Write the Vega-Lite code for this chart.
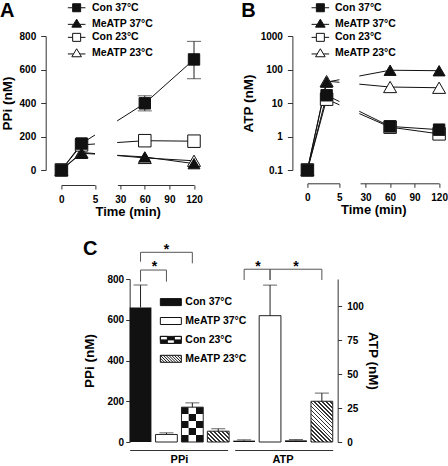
{
  "$schema": "https://vega.github.io/schema/vega-lite/v6.json",
  "padding": 0,
  "background": "white",
  "config": {
    "font": "Liberation Sans",
    "view": {"stroke": null},
    "axis": {"labelFont": "Liberation Sans", "titleFont": "Liberation Sans", "labelFontWeight": "bold", "titleFontWeight": "bold", "labelColor": "black", "titleColor": "black", "labelFontSize": 10.5, "titleFontSize": 13.5, "domainColor": "#333", "tickColor": "#333", "grid": false, "labelOverlap": false, "labelFlush": false},
    "legend": {"labelFont": "Liberation Sans", "labelFontWeight": "bold", "labelFontSize": 10.5, "labelColor": "black"},
    "title": {"font": "Liberation Sans", "fontSize": 20, "fontWeight": "bold", "anchor": "start", "color": "black"},
    "text": {"font": "Liberation Sans"}
  },
  "datasets": {
    "timePPi": [
      {"series": "MeATP 23°C", "time": 0, "value": 0},
      {"series": "MeATP 23°C", "time": 3, "value": 105},
      {"series": "MeATP 23°C", "time": 60, "value": 72},
      {"series": "MeATP 23°C", "time": 120, "value": 55},
      {"series": "Con 23°C", "time": 0, "value": 0},
      {"series": "Con 23°C", "time": 3, "value": 150},
      {"series": "Con 23°C", "time": 60, "value": 175},
      {"series": "Con 23°C", "time": 120, "value": 172},
      {"series": "MeATP 37°C", "time": 0, "value": 0},
      {"series": "MeATP 37°C", "time": 3, "value": 100},
      {"series": "MeATP 37°C", "time": 60, "value": 78},
      {"series": "MeATP 37°C", "time": 120, "value": 38},
      {"series": "Con 37°C", "time": 0, "value": 0},
      {"series": "Con 37°C", "time": 3, "value": 158},
      {"series": "Con 37°C", "time": 60, "value": 398, "lo": 353, "hi": 443},
      {"series": "Con 37°C", "time": 120, "value": 660, "lo": 545, "hi": 768}
    ],
    "timeATP": [
      {"series": "MeATP 23°C", "time": 0, "value": 0.1},
      {"series": "MeATP 23°C", "time": 3, "value": 45},
      {"series": "MeATP 23°C", "time": 60, "value": 30},
      {"series": "MeATP 23°C", "time": 120, "value": 28.5},
      {"series": "Con 23°C", "time": 0, "value": 0.1},
      {"series": "Con 23°C", "time": 3, "value": 13},
      {"series": "Con 23°C", "time": 60, "value": 1.9},
      {"series": "Con 23°C", "time": 120, "value": 1.2},
      {"series": "MeATP 37°C", "time": 0, "value": 0.1},
      {"series": "MeATP 37°C", "time": 3, "value": 42},
      {"series": "MeATP 37°C", "time": 60, "value": 95},
      {"series": "MeATP 37°C", "time": 120, "value": 92},
      {"series": "Con 37°C", "time": 0, "value": 0.1},
      {"series": "Con 37°C", "time": 3, "value": 17},
      {"series": "Con 37°C", "time": 60, "value": 2.0},
      {"series": "Con 37°C", "time": 120, "value": 1.6}
    ],
    "bars": [
      {"measure": "PPi", "cond": "Con 37°C", "bar": "PPi Con 37°C", "value": 660, "hi": 770},
      {"measure": "PPi", "cond": "MeATP 37°C", "bar": "PPi MeATP 37°C", "value": 37, "hi": 45},
      {"measure": "PPi", "cond": "Con 23°C", "bar": "PPi Con 23°C", "value": 171, "hi": 192},
      {"measure": "PPi", "cond": "MeATP 23°C", "bar": "PPi MeATP 23°C", "value": 53, "hi": 65},
      {"measure": "ATP", "cond": "Con 37°C", "bar": "ATP Con 37°C", "value": 1.0, "hi": 1.6},
      {"measure": "ATP", "cond": "MeATP 37°C", "bar": "ATP MeATP 37°C", "value": 93, "hi": 115.5},
      {"measure": "ATP", "cond": "Con 23°C", "bar": "ATP Con 23°C", "value": 1.2, "hi": 1.8},
      {"measure": "ATP", "cond": "MeATP 23°C", "bar": "ATP MeATP 23°C", "value": 30, "hi": 36}
    ],
    "brackets": [
      {"from": "PPi Con 37°C", "to": "PPi Con 23°C", "y": 931, "legL": 885, "legR": 877},
      {"from": "PPi Con 37°C", "to": "PPi MeATP 37°C", "y": 844, "legL": 787, "legR": 787},
      {"from": "ATP Con 37°C", "to": "ATP MeATP 37°C", "y": 848, "legL": 795, "legR": 795},
      {"from": "ATP MeATP 37°C", "to": "ATP MeATP 23°C", "y": 848, "legL": 795, "legR": 795}
    ],
    "stars": [
      {"at": "PPi MeATP 37°C", "y": 925, "pos": "center"},
      {"at": "PPi Con 37°C", "y": 838, "pos": "edge"},
      {"at": "ATP Con 37°C", "y": 838, "pos": "edge"},
      {"at": "ATP Con 23°C", "y": 838, "pos": "center"}
    ]
  },
  "spacing": 21,
  "center": true,
  "resolve": {"scale": {"shape": "independent", "fill": "independent", "size": "independent"}, "legend": {"shape": "independent", "fill": "independent"}},
  "vconcat": [
    {
      "spacing": 37,
      "resolve": {"scale": {"shape": "independent", "fill": "independent", "size": "independent"}, "legend": {"shape": "independent", "fill": "independent"}},
      "hconcat": [
        {
          "title": {"text": "A", "offset": -18},
          "width": 133,
          "height": 134,
          "data": {"name": "timePPi"},
          "resolve": {"scale": {"shape": "independent", "fill": "independent"}},
          "layer": [
            {
              "mark": {"type": "line", "color": "#111", "strokeWidth": 1},
              "encoding": {
                "x": {"field": "time", "type": "quantitative", "scale": {"domain": [0, 5, 30, 120], "range": [0, 33.6, 58.8, 132.6], "nice": false, "zero": false},
                  "axis": {"title": "Time (min)", "values": [0, 5, 30, 60, 90, 120], "tickCount": 12, "format": "d", "offset": 15, "tickSize": 4, "labelPadding": 5, "labelFontSize": 10, "titlePadding": 1, "titleFontSize": 13, "domainDash": [33.6, 22.4, 80], "labelOverlap": false, "labelFlush": false}},
                "y": {"field": "value", "type": "quantitative", "scale": {"domain": [0, 800], "nice": false},
                  "axis": {"title": "PPi (nM)", "values": [0, 200, 400, 600, 800], "tickCount": 10, "offset": 15.7, "tickSize": 5, "labelPadding": 5, "titlePadding": 5, "labelFontSize": 10, "labelOverlap": false}},
                "detail": {"field": "series"}
              }
            },
            {
              "data": {"values": [{"t0": 5, "t1": 27}]},
              "mark": {"type": "rect", "fill": "white"},
              "encoding": {
                "x": {"field": "t0", "type": "quantitative"},
                "x2": {"field": "t1"},
                "y": {"datum": 0},
                "y2": {"datum": 800}
              }
            },
            {
              "transform": [{"filter": "datum.hi != null"}],
              "mark": {"type": "rule", "color": "#222", "strokeWidth": 1},
              "encoding": {
                "x": {"field": "time", "type": "quantitative"},
                "y": {"field": "lo", "type": "quantitative"},
                "y2": {"field": "hi"}
              }
            },
            {
              "transform": [{"filter": "datum.hi != null"}],
              "mark": {"type": "tick", "orient": "horizontal", "size": 14, "thickness": 1, "color": "#222"},
              "encoding": {
                "x": {"field": "time", "type": "quantitative"},
                "y": {"field": "hi", "type": "quantitative"}
              }
            },
            {
              "transform": [{"filter": "datum.hi != null"}],
              "mark": {"type": "tick", "orient": "horizontal", "size": 14, "thickness": 1, "color": "#222"},
              "encoding": {
                "x": {"field": "time", "type": "quantitative"},
                "y": {"field": "lo", "type": "quantitative"}
              }
            },
            {
              "mark": {"type": "point", "filled": true, "stroke": "#111", "strokeWidth": 1, "opacity": 1},
              "encoding": {
                "x": {"field": "time", "type": "quantitative"},
                "y": {"field": "value", "type": "quantitative"},
                "shape": {"field": "series", "type": "nominal", "scale": {"domain": ["Con 37°C", "MeATP 37°C", "Con 23°C", "MeATP 23°C"], "range": ["square", "triangle-up", "square", "triangle-up"]}, "legend": null},
                "fill": {"field": "series", "type": "nominal", "scale": {"domain": ["Con 37°C", "MeATP 37°C", "Con 23°C", "MeATP 23°C"], "range": ["#111", "#111", "white", "white"]}, "legend": null},
                "size": {"field": "series", "type": "ordinal", "scale": {"domain": ["Con 37°C", "MeATP 37°C", "Con 23°C", "MeATP 23°C"], "range": [130, 169, 130, 169]}, "legend": null}
              }
            },
            {
              "mark": {"type": "point", "filled": true, "opacity": 0},
              "encoding": {
                "x": {"field": "time", "type": "quantitative"},
                "y": {"field": "value", "type": "quantitative"},
                "shape": {"field": "series", "type": "nominal", "scale": {"domain": ["Con 37°C", "MeATP 37°C", "Con 23°C", "MeATP 23°C"], "range": ["M-2.2,0H-1M1,0H2.2M-1,-1H1V1H-1Z", "M-2.2,0.2H-0.78M0.78,0.2H2.2M0,-1.1L1.2,0.9H-1.2Z", "M-2.2,0H-1M1,0H2.2M-1,-1H1V1H-1Z", "M-2.2,0.2H-0.78M0.78,0.2H2.2M0,-1.1L1.2,0.9H-1.2Z"]},
                  "legend": {"title": null, "orient": "none", "legendX": 10, "legendY": -33.5, "symbolSize": 64, "symbolStrokeWidth": 1, "symbolStrokeColor": "#111", "labelOffset": 10, "rowPadding": 1.8, "padding": 0, "encode": {"symbols": {"update": {"opacity": {"value": 1}, "stroke": {"value": "#111"}, "strokeWidth": {"value": 1}}}}}},
                "fill": {"field": "series", "type": "nominal", "scale": {"domain": ["Con 37°C", "MeATP 37°C", "Con 23°C", "MeATP 23°C"], "range": ["#111", "#111", "white", "white"]},
                  "legend": {"title": null, "orient": "none", "legendX": 10, "legendY": -33.5, "symbolSize": 64, "symbolStrokeWidth": 1, "symbolStrokeColor": "#111", "labelOffset": 10, "rowPadding": 1.8, "padding": 0, "encode": {"symbols": {"update": {"opacity": {"value": 1}, "stroke": {"value": "#111"}, "strokeWidth": {"value": 1}}}}}}
              }
            }
          ]
        },
        {
          "title": {"text": "B", "offset": -18},
          "width": 132,
          "height": 134,
          "data": {"name": "timeATP"},
          "resolve": {"scale": {"shape": "independent", "fill": "independent"}},
          "layer": [
            {
              "mark": {"type": "line", "color": "#111", "strokeWidth": 1},
              "encoding": {
                "x": {"field": "time", "type": "quantitative", "scale": {"domain": [0, 5, 30, 120], "range": [0, 32, 58.2, 131.7], "nice": false, "zero": false},
                  "axis": {"title": "Time (min)", "values": [0, 5, 30, 60, 90, 120], "tickCount": 12, "format": "d", "offset": 13.3, "tickSize": 4, "labelPadding": 5, "labelFontSize": 10, "titlePadding": 1, "titleFontSize": 13, "domainDash": [32, 20.7, 80], "labelOverlap": false, "labelFlush": false}},
                "y": {"field": "value", "type": "quantitative", "scale": {"type": "log", "domain": [0.1, 1000], "nice": false},
                  "axis": {"title": "ATP (nM)", "values": [0.1, 1, 10, 100, 1000], "tickCount": 10, "format": "~g", "offset": 15, "tickSize": 5, "labelPadding": 5, "titlePadding": 5, "labelFontSize": 10, "labelOverlap": false}},
                "detail": {"field": "series"}
              }
            },
            {
              "data": {"values": [{"t0": 5, "t1": 24}]},
              "mark": {"type": "rect", "fill": "white"},
              "encoding": {
                "x": {"field": "t0", "type": "quantitative"},
                "x2": {"field": "t1"},
                "y": {"datum": 0.1},
                "y2": {"datum": 1000}
              }
            },
            {
              "mark": {"type": "point", "filled": true, "stroke": "#111", "strokeWidth": 1, "opacity": 1},
              "encoding": {
                "x": {"field": "time", "type": "quantitative"},
                "y": {"field": "value", "type": "quantitative"},
                "shape": {"field": "series", "type": "nominal", "scale": {"domain": ["Con 37°C", "MeATP 37°C", "Con 23°C", "MeATP 23°C"], "range": ["square", "triangle-up", "square", "triangle-up"]}, "legend": null},
                "fill": {"field": "series", "type": "nominal", "scale": {"domain": ["Con 37°C", "MeATP 37°C", "Con 23°C", "MeATP 23°C"], "range": ["#111", "#111", "white", "white"]}, "legend": null},
                "size": {"field": "series", "type": "ordinal", "scale": {"domain": ["Con 37°C", "MeATP 37°C", "Con 23°C", "MeATP 23°C"], "range": [130, 169, 130, 169]}, "legend": null}
              }
            },
            {
              "mark": {"type": "point", "filled": true, "opacity": 0},
              "encoding": {
                "x": {"field": "time", "type": "quantitative"},
                "y": {"field": "value", "type": "quantitative"},
                "shape": {"field": "series", "type": "nominal", "scale": {"domain": ["Con 37°C", "MeATP 37°C", "Con 23°C", "MeATP 23°C"], "range": ["M-2.2,0H-1M1,0H2.2M-1,-1H1V1H-1Z", "M-2.2,0.2H-0.78M0.78,0.2H2.2M0,-1.1L1.2,0.9H-1.2Z", "M-2.2,0H-1M1,0H2.2M-1,-1H1V1H-1Z", "M-2.2,0.2H-0.78M0.78,0.2H2.2M0,-1.1L1.2,0.9H-1.2Z"]},
                  "legend": {"title": null, "orient": "none", "legendX": 7.7, "legendY": -33.5, "symbolSize": 64, "symbolStrokeWidth": 1, "symbolStrokeColor": "#111", "labelOffset": 9.3, "rowPadding": 1.8, "padding": 0, "encode": {"symbols": {"update": {"opacity": {"value": 1}, "stroke": {"value": "#111"}, "strokeWidth": {"value": 1}}}}}},
                "fill": {"field": "series", "type": "nominal", "scale": {"domain": ["Con 37°C", "MeATP 37°C", "Con 23°C", "MeATP 23°C"], "range": ["#111", "#111", "white", "white"]},
                  "legend": {"title": null, "orient": "none", "legendX": 7.7, "legendY": -33.5, "symbolSize": 64, "symbolStrokeWidth": 1, "symbolStrokeColor": "#111", "labelOffset": 9.3, "rowPadding": 1.8, "padding": 0, "encode": {"symbols": {"update": {"opacity": {"value": 1}, "stroke": {"value": "#111"}, "strokeWidth": {"value": 1}}}}}}
              }
            }
          ]
        }
      ]
    },
    {
      "title": {"text": "C", "offset": -16.6},
      "width": 208,
      "height": 163,
      "data": {"name": "bars"},
      "resolve": {"scale": {"y": "independent"}},
      "layer": [
        {
          "transform": [{"filter": "datum.measure == 'PPi'"}],
          "layer": [
            {
              "transform": [{"filter": "datum.cond == 'Con 37°C'"}],
              "mark": {"type": "bar", "fill": "#111"},
              "encoding": {
                "x": {"field": "bar", "type": "nominal", "scale": {"type": "band", "domain": ["PPi Con 37°C", "PPi MeATP 37°C", "PPi Con 23°C", "PPi MeATP 23°C", "ATP Con 37°C", "ATP MeATP 37°C", "ATP Con 23°C", "ATP MeATP 23°C"], "paddingInner": 0.16, "paddingOuter": 0.095, "align": 0},
                  "axis": {"title": null, "orient": "bottom", "offset": 8, "ticks": false, "labelAngle": 0, "labelPadding": 3, "labelFontSize": 11, "labelOffset": 13, "labelOverlap": false, "labelExpr": "datum.value == 'PPi MeATP 37°C' ? 'PPi' : (datum.value == 'ATP MeATP 37°C' ? 'ATP' : '')", "domainDash": [98, 7, 98, 100], "domainColor": "#333"}},
                "y": {"field": "value", "type": "quantitative", "scale": {"domain": [0, 800], "nice": false},
                  "axis": {"title": "PPi (nM)", "orient": "left", "values": [0, 200, 400, 600, 800], "tickCount": 10, "tickSize": 4, "labelPadding": 2, "labelFontSize": 10, "titlePadding": 10, "labelOverlap": false}}
              }
            },
            {
              "transform": [{"filter": "datum.cond != 'Con 37°C'"}],
              "mark": {"type": "bar", "fill": "white"},
              "encoding": {
                "x": {"field": "bar", "type": "nominal"},
                "y": {"field": "value", "type": "quantitative"}
              }
            },
            {
              "transform": [{"filter": "datum.cond == 'Con 23°C'"}],
              "mark": {"type": "bar", "width": 7.26, "xOffset": -7.26, "fill": {"gradient": "linear", "x1": 0, "y1": 0, "x2": 0, "y2": 1, "stops": [{"offset": 0, "color": "#111"}, {"offset": 0.2, "color": "#111"}, {"offset": 0.2, "color": "white"}, {"offset": 0.4, "color": "white"}, {"offset": 0.4, "color": "#111"}, {"offset": 0.6, "color": "#111"}, {"offset": 0.6, "color": "white"}, {"offset": 0.8, "color": "white"}, {"offset": 0.8, "color": "#111"}, {"offset": 1, "color": "#111"}]}},
              "encoding": {
                "x": {"field": "bar", "type": "nominal"},
                "y": {"field": "value", "type": "quantitative"}
              }
            },
            {
              "transform": [{"filter": "datum.cond == 'Con 23°C'"}],
              "mark": {"type": "bar", "width": 7.26, "xOffset": 0, "fill": {"gradient": "linear", "x1": 0, "y1": 0, "x2": 0, "y2": 1, "stops": [{"offset": 0, "color": "white"}, {"offset": 0.2, "color": "white"}, {"offset": 0.2, "color": "#111"}, {"offset": 0.4, "color": "#111"}, {"offset": 0.4, "color": "white"}, {"offset": 0.6, "color": "white"}, {"offset": 0.6, "color": "#111"}, {"offset": 0.8, "color": "#111"}, {"offset": 0.8, "color": "white"}, {"offset": 1, "color": "white"}]}},
              "encoding": {
                "x": {"field": "bar", "type": "nominal"},
                "y": {"field": "value", "type": "quantitative"}
              }
            },
            {
              "transform": [{"filter": "datum.cond == 'Con 23°C'"}],
              "mark": {"type": "bar", "width": 7.26, "xOffset": 7.26, "fill": {"gradient": "linear", "x1": 0, "y1": 0, "x2": 0, "y2": 1, "stops": [{"offset": 0, "color": "#111"}, {"offset": 0.2, "color": "#111"}, {"offset": 0.2, "color": "white"}, {"offset": 0.4, "color": "white"}, {"offset": 0.4, "color": "#111"}, {"offset": 0.6, "color": "#111"}, {"offset": 0.6, "color": "white"}, {"offset": 0.8, "color": "white"}, {"offset": 0.8, "color": "#111"}, {"offset": 1, "color": "#111"}]}},
              "encoding": {
                "x": {"field": "bar", "type": "nominal"},
                "y": {"field": "value", "type": "quantitative"}
              }
            },
            {
              "transform": [{"filter": "datum.cond == 'MeATP 23°C'"}],
              "mark": {"type": "bar", "fill": {"gradient": "linear", "x1": 0, "y1": 1, "x2": 1.2, "y2": 0.406, "stops": [
                {"offset": 0, "color": "#333"}, {"offset": 0.05, "color": "#333"}, {"offset": 0.05, "color": "white"}, {"offset": 0.125, "color": "white"},
                {"offset": 0.125, "color": "#333"}, {"offset": 0.175, "color": "#333"}, {"offset": 0.175, "color": "white"}, {"offset": 0.25, "color": "white"},
                {"offset": 0.25, "color": "#333"}, {"offset": 0.3, "color": "#333"}, {"offset": 0.3, "color": "white"}, {"offset": 0.375, "color": "white"},
                {"offset": 0.375, "color": "#333"}, {"offset": 0.425, "color": "#333"}, {"offset": 0.425, "color": "white"}, {"offset": 0.5, "color": "white"},
                {"offset": 0.5, "color": "#333"}, {"offset": 0.55, "color": "#333"}, {"offset": 0.55, "color": "white"}, {"offset": 0.625, "color": "white"},
                {"offset": 0.625, "color": "#333"}, {"offset": 0.675, "color": "#333"}, {"offset": 0.675, "color": "white"}, {"offset": 0.75, "color": "white"},
                {"offset": 0.75, "color": "#333"}, {"offset": 0.8, "color": "#333"}, {"offset": 0.8, "color": "white"}, {"offset": 0.875, "color": "white"},
                {"offset": 0.875, "color": "#333"}, {"offset": 0.925, "color": "#333"}, {"offset": 0.925, "color": "white"}, {"offset": 1, "color": "white"}]}},
              "encoding": {
                "x": {"field": "bar", "type": "nominal"},
                "y": {"field": "value", "type": "quantitative"}
              }
            },
            {
              "transform": [{"filter": "datum.cond != 'Con 37°C'"}],
              "mark": {"type": "bar", "filled": false, "color": "#222", "strokeWidth": 1},
              "encoding": {
                "x": {"field": "bar", "type": "nominal"},
                "y": {"field": "value", "type": "quantitative"}
              }
            },
            {
              "mark": {"type": "rule", "color": "#222", "strokeWidth": 1},
              "encoding": {
                "x": {"field": "bar", "type": "nominal"},
                "y": {"field": "value", "type": "quantitative"},
                "y2": {"field": "hi"}
              }
            },
            {
              "mark": {"type": "tick", "orient": "horizontal", "size": 14, "thickness": 1, "color": "#222"},
              "encoding": {
                "x": {"field": "bar", "type": "nominal"},
                "y": {"field": "hi", "type": "quantitative"}
              }
            },
            {
              "data": {"name": "brackets"},
              "mark": {"type": "rule", "color": "#555", "strokeWidth": 1},
              "encoding": {
                "x": {"field": "from", "type": "nominal"},
                "x2": {"field": "to"},
                "y": {"field": "y", "type": "quantitative"}
              }
            },
            {
              "data": {"name": "brackets"},
              "mark": {"type": "rule", "color": "#555", "strokeWidth": 1},
              "encoding": {
                "x": {"field": "from", "type": "nominal"},
                "y": {"field": "legL", "type": "quantitative"},
                "y2": {"field": "y"}
              }
            },
            {
              "data": {"name": "brackets"},
              "mark": {"type": "rule", "color": "#555", "strokeWidth": 1},
              "encoding": {
                "x": {"field": "to", "type": "nominal"},
                "y": {"field": "legR", "type": "quantitative"},
                "y2": {"field": "y"}
              }
            },
            {
              "data": {"name": "stars"},
              "transform": [{"filter": "datum.pos == 'center'"}],
              "mark": {"type": "text", "text": "*", "fontSize": 14, "fontWeight": "bold", "baseline": "alphabetic", "color": "black"},
              "encoding": {
                "x": {"field": "at", "type": "nominal"},
                "y": {"field": "y", "type": "quantitative"}
              }
            },
            {
              "data": {"name": "stars"},
              "transform": [{"filter": "datum.pos == 'edge'"}],
              "mark": {"type": "text", "text": "*", "fontSize": 14, "fontWeight": "bold", "baseline": "alphabetic", "color": "black", "dx": 3},
              "encoding": {
                "x": {"field": "at", "type": "nominal", "bandPosition": 1},
                "y": {"field": "y", "type": "quantitative"}
              }
            },
            {
              "mark": {"type": "point", "filled": true, "opacity": 0},
              "encoding": {
                "x": {"field": "bar", "type": "nominal"},
                "y": {"field": "value", "type": "quantitative"},
                "shape": {"field": "cond", "type": "nominal", "scale": {"domain": ["Con 37°C", "MeATP 37°C", "Con 23°C", "MeATP 23°C"], "range": ["M-1.5,-0.5H1.5V0.5H-1.5Z", "M-1.5,-0.5H1.5V0.5H-1.5Z", "M-1.5,-0.5H1.5V0.5H-1.5ZM-1.5,-0.5V0H-0.5V-0.5ZM-0.5,0V0.5H0.5V0ZM0.5,-0.5V0H1.5V-0.5Z", "M-1.5,-0.5H1.5V0.5H-1.5ZM-1.5,-0.1L-0.9,0.5M-1.5,0.3L-1.3,0.5M-1.5,-0.5L-0.5,0.5M-1.1,-0.5L-0.1,0.5M-0.7,-0.5L0.3,0.5M-0.3,-0.5L0.7,0.5M0.1,-0.5L1.1,0.5M0.5,-0.5L1.5,0.5M0.9,-0.5L1.5,0.1M1.3,-0.5L1.5,-0.3"]},
                  "legend": {"title": null, "orient": "none", "legendX": 33.7, "legendY": 15.6, "symbolSize": 196, "symbolStrokeWidth": 1, "symbolStrokeColor": "#111", "labelOffset": 7, "rowPadding": 5.9, "padding": 0, "encode": {"symbols": {"update": {"opacity": {"value": 1}, "stroke": {"value": "#111"}, "strokeWidth": {"value": 1}}}}}},
                "fill": {"field": "cond", "type": "nominal", "scale": {"domain": ["Con 37°C", "MeATP 37°C", "Con 23°C", "MeATP 23°C"], "range": ["#111", "white", "#111", "white"]},
                  "legend": {"title": null, "orient": "none", "legendX": 33.7, "legendY": 15.6, "symbolSize": 196, "symbolStrokeWidth": 1, "symbolStrokeColor": "#111", "labelOffset": 7, "rowPadding": 5.9, "padding": 0, "encode": {"symbols": {"update": {"opacity": {"value": 1}, "stroke": {"value": "#111"}, "strokeWidth": {"value": 1}}}}}}
              }
            }
          ]
        },
        {
          "transform": [{"filter": "datum.measure == 'ATP'"}],
          "layer": [
            {
              "transform": [{"filter": "datum.cond == 'Con 37°C' || datum.cond == 'Con 23°C'"}],
              "mark": {"type": "bar", "fill": "#111"},
              "encoding": {
                "x": {"field": "bar", "type": "nominal"},
                "y": {"field": "value", "type": "quantitative", "scale": {"domain": [0, 120], "nice": false},
                  "axis": {"title": "ATP (nM)", "orient": "right", "values": [0, 25, 50, 75, 100], "tickCount": 10, "tickSize": 4, "labelPadding": 5, "labelFontSize": 10, "titlePadding": 2, "labelOverlap": false}}
              }
            },
            {
              "transform": [{"filter": "datum.cond == 'MeATP 37°C'"}],
              "mark": {"type": "bar", "fill": "white"},
              "encoding": {
                "x": {"field": "bar", "type": "nominal"},
                "y": {"field": "value", "type": "quantitative"}
              }
            },
            {
              "transform": [{"filter": "datum.cond == 'MeATP 23°C'"}],
              "mark": {"type": "bar", "fill": {"gradient": "linear", "x1": 0, "y1": 1, "x2": 0.638, "y2": -0.194, "stops": [
                {"offset": 0, "color": "#333"}, {"offset": 0.025, "color": "#333"}, {"offset": 0.025, "color": "white"}, {"offset": 0.0625, "color": "white"},
                {"offset": 0.0625, "color": "#333"}, {"offset": 0.0875, "color": "#333"}, {"offset": 0.0875, "color": "white"}, {"offset": 0.125, "color": "white"},
                {"offset": 0.125, "color": "#333"}, {"offset": 0.15, "color": "#333"}, {"offset": 0.15, "color": "white"}, {"offset": 0.1875, "color": "white"},
                {"offset": 0.1875, "color": "#333"}, {"offset": 0.2125, "color": "#333"}, {"offset": 0.2125, "color": "white"}, {"offset": 0.25, "color": "white"},
                {"offset": 0.25, "color": "#333"}, {"offset": 0.275, "color": "#333"}, {"offset": 0.275, "color": "white"}, {"offset": 0.3125, "color": "white"},
                {"offset": 0.3125, "color": "#333"}, {"offset": 0.3375, "color": "#333"}, {"offset": 0.3375, "color": "white"}, {"offset": 0.375, "color": "white"},
                {"offset": 0.375, "color": "#333"}, {"offset": 0.4, "color": "#333"}, {"offset": 0.4, "color": "white"}, {"offset": 0.4375, "color": "white"},
                {"offset": 0.4375, "color": "#333"}, {"offset": 0.4625, "color": "#333"}, {"offset": 0.4625, "color": "white"}, {"offset": 0.5, "color": "white"},
                {"offset": 0.5, "color": "#333"}, {"offset": 0.525, "color": "#333"}, {"offset": 0.525, "color": "white"}, {"offset": 0.5625, "color": "white"},
                {"offset": 0.5625, "color": "#333"}, {"offset": 0.5875, "color": "#333"}, {"offset": 0.5875, "color": "white"}, {"offset": 0.625, "color": "white"},
                {"offset": 0.625, "color": "#333"}, {"offset": 0.65, "color": "#333"}, {"offset": 0.65, "color": "white"}, {"offset": 0.6875, "color": "white"},
                {"offset": 0.6875, "color": "#333"}, {"offset": 0.7125, "color": "#333"}, {"offset": 0.7125, "color": "white"}, {"offset": 0.75, "color": "white"},
                {"offset": 0.75, "color": "#333"}, {"offset": 0.775, "color": "#333"}, {"offset": 0.775, "color": "white"}, {"offset": 0.8125, "color": "white"},
                {"offset": 0.8125, "color": "#333"}, {"offset": 0.8375, "color": "#333"}, {"offset": 0.8375, "color": "white"}, {"offset": 0.875, "color": "white"},
                {"offset": 0.875, "color": "#333"}, {"offset": 0.9, "color": "#333"}, {"offset": 0.9, "color": "white"}, {"offset": 0.9375, "color": "white"},
                {"offset": 0.9375, "color": "#333"}, {"offset": 0.9625, "color": "#333"}, {"offset": 0.9625, "color": "white"}, {"offset": 1, "color": "white"}]}},
              "encoding": {
                "x": {"field": "bar", "type": "nominal"},
                "y": {"field": "value", "type": "quantitative"}
              }
            },
            {
              "transform": [{"filter": "datum.cond == 'MeATP 37°C' || datum.cond == 'MeATP 23°C'"}],
              "mark": {"type": "bar", "filled": false, "color": "#222", "strokeWidth": 1},
              "encoding": {
                "x": {"field": "bar", "type": "nominal"},
                "y": {"field": "value", "type": "quantitative"}
              }
            },
            {
              "mark": {"type": "rule", "color": "#222", "strokeWidth": 1},
              "encoding": {
                "x": {"field": "bar", "type": "nominal"},
                "y": {"field": "value", "type": "quantitative"},
                "y2": {"field": "hi"}
              }
            },
            {
              "mark": {"type": "tick", "orient": "horizontal", "size": 14, "thickness": 1, "color": "#222"},
              "encoding": {
                "x": {"field": "bar", "type": "nominal"},
                "y": {"field": "hi", "type": "quantitative"}
              }
            }
          ]
        }
      ]
    }
  ]
}
